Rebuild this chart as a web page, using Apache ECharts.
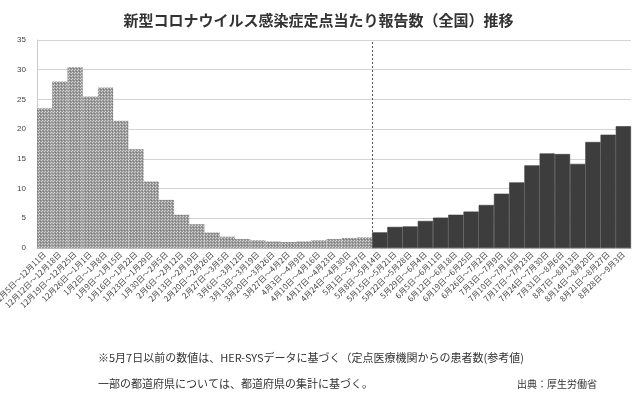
<!DOCTYPE html>
<html>
<head>
<meta charset="utf-8">
<script src="https://cdn.jsdelivr.net/npm/echarts@6/dist/echarts.min.js"></script>
<style>
  html, body { margin: 0; padding: 0; background: #fff; }
  #chart { width: 637px; height: 405px; }
</style>
</head>
<body>
<div id="chart"></div>
<script>
// 週（カテゴリ）
const weeks = [
  '12月5日～12月11日', '12月12日～12月18日', '12月19日～12月25日', '12月26日～1月1日',
  '1月2日～1月8日', '1月9日～1月15日', '1月16日～1月22日', '1月23日～1月29日',
  '1月30日～2月5日', '2月6日～2月12日', '2月13日～2月19日', '2月20日～2月26日',
  '2月27日～3月5日', '3月6日～3月12日', '3月13日～3月19日', '3月20日～3月26日',
  '3月27日～4月2日', '4月3日～4月9日', '4月10日～4月16日', '4月17日～4月23日',
  '4月24日～4月30日', '5月1日～5月7日', '5月8日～5月14日', '5月15日～5月21日',
  '5月22日～5月28日', '5月29日～6月4日', '6月5日～6月11日', '6月12日～6月18日',
  '6月19日～6月25日', '6月26日～7月2日', '7月3日～7月9日', '7月10日～7月16日',
  '7月17日～7月23日', '7月24日～7月30日', '7月31日～8月6日', '8月7日～8月13日',
  '8月14日～8月20日', '8月21日～8月27日', '8月28日～9月3日'
];
// 5月7日以前（HER-SYS 参考値）
const refValues = [23.5, 28.0, 30.4, 25.5, 27.0, 21.4, 16.6, 11.2, 8.1, 5.6, 4.0,
  2.6, 1.9, 1.5, 1.3, 1.1, 1.0, 1.1, 1.3, 1.5, 1.7, 1.8];
// 5月8日以降（定点報告）
const sentinelValues = [2.63, 3.55, 3.63, 4.55, 5.11, 5.60, 6.13, 7.24, 9.14, 11.04,
  13.91, 15.91, 15.81, 14.16, 17.84, 19.07, 20.50];
const yTicks = [0, 5, 10, 15, 20, 25, 30, 35];

const leftData = weeks.map((w, i) => i < refValues.length ? refValues[i] : null);
const rightData = weeks.map((w, i) => i >= refValues.length ? sentinelValues[i - refValues.length] : null);

// 網掛けパターン
const pat = document.createElement('canvas');
pat.width = 3; pat.height = 3;
const pc = pat.getContext('2d');
pc.fillStyle = '#999';
pc.fillRect(0, 0, 3, 3);
pc.fillStyle = '#d4d4d4';
pc.fillRect(0, 0, 1, 1);
pc.fillRect(2, 1, 1, 1);
pc.fillStyle = '#777';
pc.fillRect(1, 2, 1, 1);

const jp = 'Noto Sans CJK JP';
const chart = echarts.init(document.getElementById('chart'));
chart.setOption({
  animation: false,
  title: {
    text: '新型コロナウイルス感染症定点当たり報告数（全国）推移',
    left: 'center',
    top: 8,
    textStyle: { fontSize: 15, fontWeight: 'bold', color: '#333', fontFamily: jp }
  },
  grid: { left: 37, right: 6, top: 40, bottom: 157, outerBoundsMode: 'none' },
  xAxis: [{
    type: 'category',
    data: weeks,
    axisTick: { show: false },
    axisLine: { lineStyle: { color: '#bbb' } },
    axisLabel: {
      interval: 0, rotate: 45, fontSize: 8, color: '#444', margin: 5, fontFamily: jp
    }
  }, {
    type: 'value', min: 0, max: weeks.length, show: false
  }],
  yAxis: {
    type: 'value',
    min: yTicks[0],
    max: yTicks[yTicks.length - 1],
    interval: 5,
    axisLine: { show: true, lineStyle: { color: '#ccc' } },
    axisTick: { show: false },
    splitLine: { lineStyle: { color: '#d4d4d4' } },
    axisLabel: { fontSize: 8, color: '#444', margin: 11 }
  },
  series: [{
    type: 'bar',
    stack: 'all',
    data: leftData,
    barCategoryGap: '0%',
    itemStyle: { color: { image: pat, repeat: 'repeat' } }
  }, {
    type: 'bar',
    stack: 'all',
    data: rightData,
    barCategoryGap: '0%',
    itemStyle: { color: '#3d3d3d', borderColor: '#3d3d3d', borderWidth: 0.6 }
  }, {
    type: 'line',
    xAxisIndex: 1,
    data: [],
    markLine: {
      silent: true,
      symbol: 'none',
      label: { show: false },
      lineStyle: { color: '#555', type: [2, 2], width: 1 },
      data: [{ xAxis: refValues.length }]
    }
  }],
  graphic: [{
    type: 'text', left: 98, top: 352,
    style: { text: '※5月7日以前の数値は、HER-SYSデータに基づく（定点医療機関からの患者数(参考値)',
      fontSize: 11, fill: '#333', fontFamily: jp }
  }, {
    type: 'text', left: 98, top: 378,
    style: { text: '一部の都道府県については、都道府県の集計に基づく。',
      fontSize: 11, fill: '#333', fontFamily: jp }
  }, {
    type: 'text', right: 40, top: 379,
    style: { text: '出典：厚生労働省', fontSize: 10, fill: '#333', fontFamily: jp }
  }]
});
</script>
</body>
</html>
